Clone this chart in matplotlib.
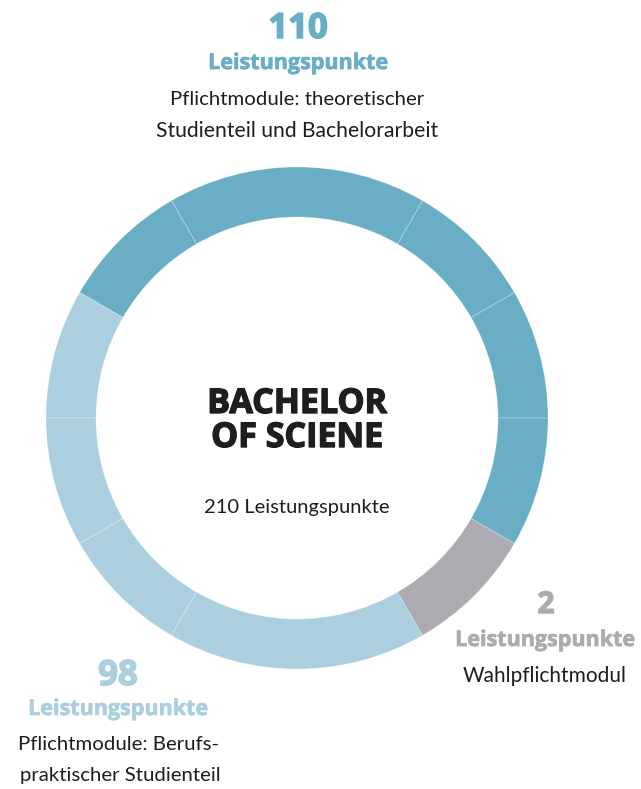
import matplotlib
matplotlib.use("Agg")
import matplotlib.pyplot as plt
import matplotlib.patheffects as pe

# ---- data ----
segment_degrees = [30, 30, 60, 30, 30, 30, 30, 60, 30, 30]   # counter-clockwise from 3 o'clock
segment_group = ["pflicht", "pflicht", "pflicht", "pflicht",
                 "praxis", "praxis", "praxis", "praxis",
                 "wahl", "pflicht"]
group_points = {"pflicht": 110, "praxis": 98, "wahl": 2}
group_text = {
    "pflicht": ["Pflichtmodule: theoretischer", "Studienteil und Bachelorarbeit"],
    "praxis": ["Pflichtmodule: Berufs-", "praktischer Studienteil"],
    "wahl": ["Wahlpflichtmodul"],
}
unit_label = "Leistungspunkte"
center_title = ["BACHELOR", "OF SCIENE"]
center_sub = "210 Leistungspunkte"

group_color = {"pflicht": "#6aaec6", "praxis": "#abcfdf", "wahl": "#adaab1"}
TEXT = "#1e1e1e"

W, H = 641, 789
fig = plt.figure(figsize=(W / 100, H / 100), dpi=100)
ax = fig.add_axes([0, 0, 1, 1])

cx, cy = 297, H - 418
R, RING = 251, 50
ax.pie(segment_degrees, colors=[group_color[g] for g in segment_group],
       startangle=0, counterclock=True, radius=R, center=(cx, cy),
       wedgeprops=dict(width=RING, edgecolor=(1, 1, 1, 0.35), linewidth=0.5))
ax.set_xlim(0, W)
ax.set_ylim(0, H)
ax.set_aspect("equal")
ax.axis("off")

BOLD = dict(family=["Open Sans", "DejaVu Sans"], weight="bold")
REG = dict(family=["Lato", "DejaVu Sans"], weight="normal")

def T(x, y_px, s, size, color, font, stroke=0.0):
    t = ax.text(x, H - y_px, s, ha="center", va="baseline", fontsize=size,
                color=color, **font)
    if stroke:
        t.set_path_effects([pe.withStroke(linewidth=stroke, foreground=color)])
    return t

# top label (110)
T(298, 38, str(group_points["pflicht"]), 25, group_color["pflicht"], BOLD, 1.1)
T(298, 69, unit_label, 15.5, group_color["pflicht"], BOLD, 0.5)
T(297, 105, group_text["pflicht"][0], 14.7, TEXT, REG)
T(297, 137, group_text["pflicht"][1], 15.2, TEXT, REG)

# center
T(297, 413, center_title[0], 24.5, TEXT, BOLD, 1.0)
T(297, 447, center_title[1], 24.5, TEXT, BOLD, 1.0)
T(297, 513, center_sub, 14.5, TEXT, REG)

# right label (2)
T(546, 613, str(group_points["wahl"]), 21.5, group_color["wahl"], BOLD, 1.0)
T(545, 646, unit_label, 15.5, group_color["wahl"], BOLD, 0.5)
T(545, 682, group_text["wahl"][0], 15, TEXT, REG)

# left-bottom label (98)
T(118, 685, str(group_points["praxis"]), 25, group_color["praxis"], BOLD, 1.1)
T(118, 715, unit_label, 15.5, group_color["praxis"], BOLD, 0.5)
T(118, 750, group_text["praxis"][0], 14.7, TEXT, REG)
T(120, 781, group_text["praxis"][1], 14.7, TEXT, REG)

fig.savefig("out.png", dpi=100, facecolor="white")
